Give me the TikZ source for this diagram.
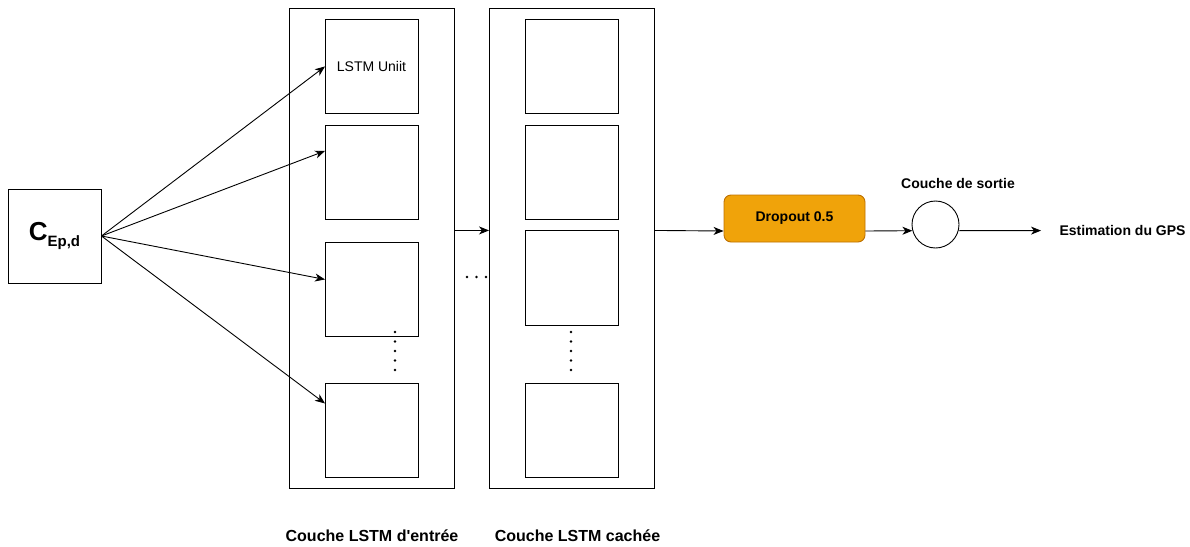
\documentclass[tikz,border=0pt]{standalone}
\usepackage{fontspec}
\setmainfont{Liberation Sans}
\usetikzlibrary{arrows.meta,calc}
\definecolor{dropfill}{HTML}{F0A30A}
\definecolor{dropline}{HTML}{BD7000}
\tikzset{
  unitbox/.style={draw=black,line width=0.9pt,minimum width=93pt,minimum height=94pt,inner sep=0pt,anchor=north west},
  layerbox/.style={draw=black,line width=0.9pt,minimum width=165pt,minimum height=480pt,inner sep=0pt,anchor=north west},
  arr/.style={-{Stealth[length=10pt,width=8pt,inset=3pt]},line width=0.9pt},
  lbl/.style={font=\fontsize{16}{18}\selectfont\bfseries,inner sep=0pt},
  slbl/.style={font=\fontsize{14}{16}\selectfont\bfseries,inner sep=0pt},
  dotv/.style={fill=black,circle,inner sep=0pt,minimum size=2.6pt},
}
\begin{document}
\begin{tikzpicture}[x=1pt,y=-1pt]
\useasboundingbox (0,0) rectangle (1190,546);
% input box
\node[draw=black,line width=0.9pt,minimum width=93pt,minimum height=94pt,inner sep=0pt] (c) at (54.5,236)
  {\fontsize{26}{28}\selectfont\bfseries C\raisebox{-5.5pt}{\fontsize{15}{17}\selectfont Ep,d}};
% layers
\node[layerbox] (L) at (289,8) {};
\node[layerbox] (R) at (489,8) {};
% left units
\node[unitbox] (l1) at (325,19) {};
\node[font=\fontsize{14}{16}\selectfont] (t1) at (371.5,66) {LSTM Uniit};
\node[unitbox] (l2) at (325,125) {};
\node[unitbox,minimum height=94pt] (l3) at (325,242) {};
\node[unitbox] (l4) at (325,383) {};
% right units
\node[unitbox] (r1) at (525,19) {};
\node[unitbox] (r2) at (525,125) {};
\node[unitbox,minimum height=95pt] (r3) at (525,230) {};
\node[unitbox] (r4) at (525,383) {};
% vertical dots
\foreach \yy [count=\i] in {332,341.5,351,360.5,370} {
  \node[dotv] (ld\i) at (395,\yy) {};
  \node[dotv] (rd\i) at (571,\yy) {};
}
% horizontal dots
\foreach \xx [count=\i] in {467,476.5,486} {
  \node[dotv] (hd\i) at (\xx,277) {};
}
% arrows from input
\draw[arr] (c.east) -- (l1.west);
\draw[arr] (c.east) -- ([yshift=21.5pt]l2.west);
\draw[arr] (c.east) -- ([yshift=10pt]l3.west);
\draw[arr] (c.east) -- ([yshift=27pt]l4.west);
% between layers
\draw[arr] ([yshift=18pt]L.east) -- ([yshift=18pt]R.west);
% dropout
\node[draw=dropline,fill=dropfill,line width=0.9pt,rounded corners=7pt,minimum width=141pt,minimum height=47pt,inner sep=0pt,slbl] (d) at (794.5,218.5) {Dropout 0.5};
\draw[arr] ([yshift=18pt]R.east) -- ([yshift=-12.5pt]d.west);
% output neuron
\node[draw=black,line width=0.9pt,circle,minimum size=47pt,inner sep=0pt] (o) at (935.5,224.5) {};
\node[slbl] (ot) at (958,183) {Couche de sortie};
\draw[arr] ([yshift=-12.5pt]d.east) -- (o.195);
\coordinate (end) at (1041,230.6);
\draw[arr] (o.-15) -- (end);
\node[slbl] (gps) at (1122.5,230) {Estimation du GPS};
% labels
\node[lbl] (la) at (372,536) {Couche LSTM d\textquotesingle entrée};
\node[lbl] (lb) at (577.5,536) {Couche LSTM cachée};
\end{tikzpicture}
\end{document}
